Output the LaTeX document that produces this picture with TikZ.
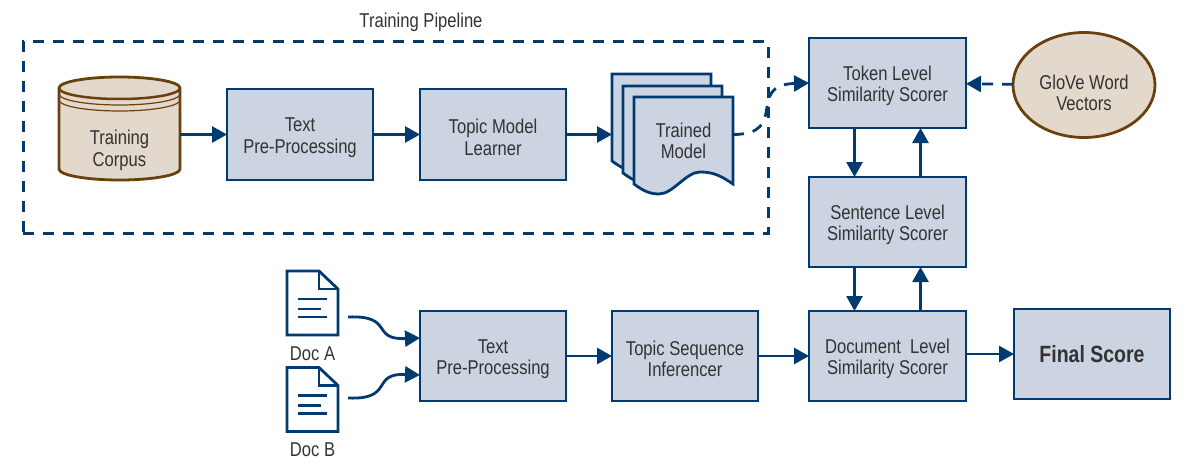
\documentclass[tikz,border=0pt]{standalone}
\usepackage{fontspec}
\setmainfont[FakeStretch=0.83]{Liberation Sans}
\usetikzlibrary{arrows.meta,positioning,shapes.geometric}
\definecolor{navy}{HTML}{003A70}
\definecolor{boxfill}{HTML}{CCD4E1}
\definecolor{brownline}{HTML}{6B400F}
\definecolor{brownfill}{HTML}{E2D8CB}
\definecolor{inktext}{HTML}{333333}

% struts that push two-line labels down in their shapes
\newcommand{\boxrow}{\rule{0pt}{20.5pt}}
\newcommand{\ovalrow}{\rule{0pt}{30pt}}

% one sheet of the stacked model, north west corner at #2
\newcommand{\modelsheet}[2]{
  \coordinate (#1) at #2;
  \draw[sheetline] (#1) -- ++(99,0) -- ++(0,87)
    .. controls ++(-12,-8) and ++(14,0) .. ++(-33,-12)
    .. controls ++(-14,0) and ++(14,0) .. ++(-41,22)
    .. controls ++(-10,0) and ++(8,6) .. ++(-25,-10) -- cycle;
}
% page icon with a folded corner and three text lines
\newcommand{\pageicon}[2]{
  \node[pagebox] (#1) at #2 {};
  \draw[pageline, fill=white] (#1.north west) -- ++(32,0) -- ++(19,18) |- (#1.south west) -- cycle;
  \draw[pageline] ([xshift=32pt]#1.north west) |- ++(19,18);
  \draw[pageline] ([shift={(11pt,-28pt)}]#1.north west) -- ++(29,0);
  \draw[pageline] ([shift={(11pt,-38pt)}]#1.north west) -- ++(23,0);
  \draw[pageline] ([shift={(11pt,-46pt)}]#1.north west) -- ++(29,0);
}

\begin{document}
\begin{tikzpicture}[
  x=1pt, y=-1pt,
  font=\fontsize{20}{21.5}\selectfont,
  text=inktext,
  outer sep=0pt,
  block/.style={draw=navy, fill=boxfill, line width=2.8pt, align=center, minimum width=146pt, minimum height=91pt, inner sep=0pt},
  scorer/.style={block, minimum width=157pt, minimum height=90pt},
  source/.style={draw=brownline, fill=brownfill, line width=2.8pt},
  sheetline/.style={draw=navy, fill=boxfill, line width=2.8pt},
  pagebox/.style={minimum width=51pt, minimum height=64pt, inner sep=0pt},
  pageline/.style={draw=navy, line width=2.8pt},
  arrow/.style={-{Triangle[length=15pt,width=16pt]}, draw=navy, line width=2.8pt},
  dasharrow/.style={arrow, dash pattern=on 11pt off 9pt}
]
\useasboundingbox (0,0) rectangle (1196,476);

% training pipeline
\draw[source] (59,88) -- (59,169) arc[start angle=180, end angle=0, x radius=60.5, y radius=11]
  -- (180,88) arc[start angle=0, end angle=-180, x radius=60.5, y radius=11] -- cycle;
\foreach \bandy/\bandw in {88/2.5pt, 94/1.2pt, 100/1.2pt}
  \draw[brownline, line width=\bandw] (59,\bandy) arc[start angle=180, end angle=0, x radius=60.5, y radius=11];
\node[minimum width=121pt, align=center] (corpus) at (119.5,150.5) {Training\\Corpus};
\node[block] (textprep) at (300,134.5) {\boxrow Text\\Pre-Processing};
\node[block, right=47pt of textprep] (learner) {\boxrow Topic Model\\Learner};
\modelsheet{sheetback}{(612,74)}
\modelsheet{sheetmid}{(623,86)}
\modelsheet{sheetfront}{(634,97)}
\node[align=center] (model) at (683.5,141) {Trained\\Model};
\coordinate (modelin) at (612,134.5);
\coordinate (modelout) at (733,134.5);
\node[draw=navy, line width=3pt, dash pattern=on 11pt off 9pt, minimum width=745pt, minimum height=191pt] (pipeline) at (395.5,137.5) {};
\node[above=7pt of pipeline.north, xshift=25.5pt] (pipelinetext) {Training Pipeline};

% scorers on the right
\node[scorer] (token) at (887.5,83) {\boxrow Token Level\\Similarity Scorer};
\node[scorer, below=49pt of token] (sentence) {\boxrow Sentence Level\\Similarity Scorer};
\node[scorer, below=44pt of sentence] (document) {\boxrow Document\ \ Level\\Similarity Scorer};
\node[source, shape=ellipse, align=center, inner sep=0pt, minimum width=142pt, minimum height=105pt] (glove) at (1084,85) {\ovalrow GloVe Word\\Vectors};
\node[scorer, font=\fontsize{23.5}{24}\selectfont\bfseries, minimum width=156pt, right=48pt of document, yshift=2pt] (final) {Final Score};

% inference row
\node[block, minimum height=90pt] (docprep) at (493,356) {\boxrow Text\\Pre-Processing};
\node[block, minimum height=90pt, right=46pt of docprep] (inferencer) {\boxrow Topic Sequence\\Inferencer};
\pageicon{docA}{(312.5,303)}
\pageicon{docB}{(312.5,399.5)}
\node[below=8pt of docA] (docAtext) {Doc A};
\node[below=8pt of docB] (docBtext) {Doc B};
\coordinate (docAout) at (348,317);
\coordinate (docBout) at (348,398);

% connectors
\draw[arrow] (corpus.east |- textprep) -- (textprep);
\draw[arrow] (textprep) -- (learner);
\draw[arrow] (learner) -- (modelin);
\draw[dasharrow] (modelout) .. controls (790,134.5) and (745,85) .. (token.west);
\draw[dasharrow] (glove) -- (token);
\draw[arrow] ([xshift=-33pt]token.south) -- ([xshift=-33pt]sentence.north);
\draw[arrow] ([xshift=33pt]sentence.north) -- ([xshift=33pt]token.south);
\draw[arrow] ([xshift=-33pt]sentence.south) -- ([xshift=-33pt]document.north);
\draw[arrow] ([xshift=33pt]document.north) -- ([xshift=33pt]sentence.south);
\draw[arrow] (docAout) .. controls (395,315) and (370,340) .. ([yshift=18pt]docprep.west);
\draw[arrow] (docBout) .. controls (395,400) and (370,373) .. ([yshift=-19pt]docprep.west);
\draw[arrow] (docprep) -- (inferencer);
\draw[arrow] (inferencer) -- (document);
\draw[arrow] (document.east |- final) -- (final);
\end{tikzpicture}
\end{document}
